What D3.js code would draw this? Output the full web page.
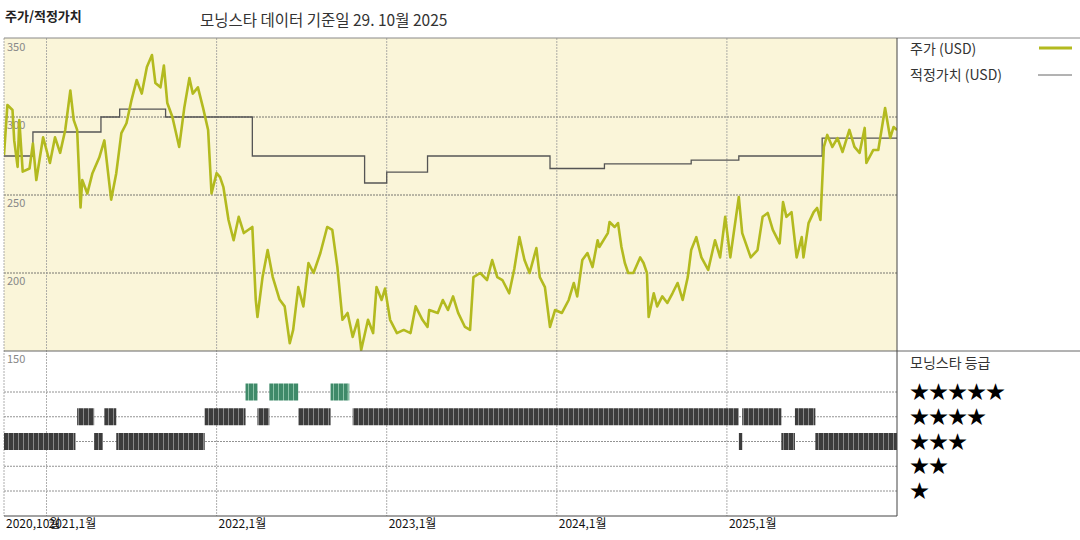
<!doctype html>
<html>
<head>
<meta charset="UTF-8">
<title>주가/적정가치</title>
<script src="https://d3js.org/d3.v7.min.js"></script>
<style>
  body{margin:0;background:#fff;}
  text{font-family:"Noto Sans CJK KR","DejaVu Sans",sans-serif;}
</style>
</head>
<body>
<svg width="1080" height="540" id="svg1"></svg>
<script>
// price (USD): decimal year, value
var priceT = [2020.75,2020.77,2020.80,2020.81,2020.83,2020.84,2020.86,2020.90,2020.92,2020.94,2020.98,2021.02,2021.05,2021.08,2021.11,2021.14,2021.16,2021.18,2021.20,2021.21,2021.24,2021.27,2021.31,2021.34,2021.38,2021.41,2021.44,2021.47,2021.50,2021.53,2021.56,2021.59,2021.62,2021.64,2021.67,2021.69,2021.71,2021.74,2021.78,2021.81,2021.84,2021.86,2021.89,2021.92,2021.95,2021.97,2022.00,2022.02,2022.04,2022.07,2022.10,2022.13,2022.16,2022.21,2022.23,2022.24,2022.27,2022.30,2022.33,2022.37,2022.40,2022.43,2022.45,2022.48,2022.51,2022.54,2022.57,2022.61,2022.65,2022.68,2022.71,2022.74,2022.77,2022.80,2022.83,2022.85,2022.89,2022.92,2022.94,2022.97,2022.99,2023.02,2023.06,2023.10,2023.14,2023.17,2023.21,2023.24,2023.25,2023.30,2023.33,2023.36,2023.39,2023.42,2023.46,2023.49,2023.51,2023.55,2023.59,2023.62,2023.65,2023.68,2023.72,2023.75,2023.78,2023.81,2023.84,2023.88,2023.90,2023.93,2023.96,2023.99,2024.03,2024.07,2024.10,2024.12,2024.15,2024.18,2024.21,2024.24,2024.25,2024.30,2024.31,2024.34,2024.36,2024.38,2024.40,2024.42,2024.45,2024.49,2024.51,2024.53,2024.54,2024.57,2024.59,2024.62,2024.65,2024.68,2024.71,2024.74,2024.77,2024.79,2024.82,2024.85,2024.89,2024.93,2024.96,2024.99,2025.02,2025.04,2025.07,2025.09,2025.14,2025.18,2025.21,2025.24,2025.27,2025.31,2025.33,2025.35,2025.38,2025.41,2025.44,2025.45,2025.48,2025.51,2025.53,2025.55,2025.57,2025.59,2025.62,2025.65,2025.68,2025.72,2025.75,2025.78,2025.81,2025.82,2025.86,2025.89,2025.93,2025.96,2025.98,2026.00];
var priceV = [275.6,307.7,304.5,285,268,298,265,267,283,259.6,287,270.5,287,277,291.7,317,298,291.7,242,259.6,251,264,274,285,247,264,289.7,296,311,323.7,315,332,339.7,321.8,319,333,309,300,280.8,306,325,315,319,306,291.7,251,264,261.5,255,234,221,236,225.6,229.5,183,171.8,197.4,214.7,197.4,183,178.6,155,163.5,191,178.6,206.4,200,212.8,229.5,227.6,203.8,170,174.4,159,170,150.6,170,161.5,191,182.7,190,170,161.5,163.5,161.5,178.6,170,165.4,176.3,174.4,182.7,176.3,185,174.4,165.4,163.5,197.4,200,195.5,208.3,197.4,195.5,187,202.6,223,208.3,200,216,197.4,191,165.4,176.3,174.4,182.7,193.6,185,208.3,212.8,203.8,221,216.7,225.6,232.7,229.5,232,216.7,206.4,200,200,210,206.4,200,171.8,187,178.6,185,180.8,187,193.6,182.7,197.4,214.7,223,210,202,221,210,236,210,225.6,248.7,225.6,210,214.7,236,238.5,227.6,219,245.5,236,239,210,223,210,232,239,241.7,234,280.8,288.5,280.8,286.5,277.6,291.7,280.8,277,293,270.5,278.8,278.8,305.8,286.5,293.6,291.7];

// fair value (USD) steps: start year, value
var fairT = [2020.75,2020.92,2021.32,2021.43,2021.70,2022.21,2022.87,2023.00,2023.24,2023.96,2024.28,2024.79,2025.07,2025.56];
var fairV = [275,290.4,300,305,300,275,257.7,264.7,275,267,270,272.4,275,286.5];
var fairEnd = 2026.0;

// morningstar rating segments: [start, end, stars]
var ratingStart = [2020.75,2021.18,2021.28,2021.34,2021.41,2021.93,2022.17,2022.24,2022.31,2022.48,2022.67,2022.77,2022.80,2025.07,2025.09,2025.32,2025.40,2025.52];
var ratingEnd   = [2021.17,2021.28,2021.33,2021.41,2021.93,2022.17,2022.24,2022.31,2022.48,2022.67,2022.77,2022.78,2025.07,2025.09,2025.32,2025.40,2025.52,2026.00];
var ratingStars = [3,4,3,4,3,4,5,4,5,4,5,5,4,3,4,3,4,3];

var tickYears = [2020.75,2021,2022,2023,2024,2025];
var tickLabels = ["2020,10월","2021,1월","2022,1월","2023,1월","2024,1월","2025,1월"];
var priceTicks = [150,200,250,300,350];
var starRows = [5,4,3,2,1];

var svg = d3.select("#svg1");
var L = 4, R = 897, T = 38, M = 351, B = 516, BAR = 17;

var x = d3.scaleLinear().domain([2020.75, 2026.0]).range([L, R]);
var y = d3.scaleLinear().domain([150, 350]).range([M, T + 1]);
var yr = d3.scalePoint().domain(starRows).range([392, 491]);

// titles
svg.append("text").attr("x", 5).attr("y", 21).attr("font-size", 13).attr("font-weight", "bold").attr("fill", "#222").text("주가/적정가치");
svg.append("text").attr("x", 200).attr("y", 26).attr("font-size", 15.5).attr("fill", "#333").text("모닝스타 데이터 기준일 29. 10월 2025");

// panels
svg.append("rect").attr("x", L).attr("y", T).attr("width", R - L).attr("height", M - T).attr("fill", "#faf5d9");
svg.append("clipPath").attr("id", "clip").append("rect").attr("x", L).attr("y", T).attr("width", R - L).attr("height", M - T);

// grid
svg.selectAll(".hg").data([200, 250, 300]).enter().append("line")
  .attr("x1", L).attr("x2", R).attr("y1", function(d){ return y(d); }).attr("y2", function(d){ return y(d); })
  .attr("stroke", "#555").attr("stroke-dasharray", "2,1").attr("stroke-width", 0.8);
svg.selectAll(".rg").data(starRows).enter().append("line")
  .attr("x1", L).attr("x2", R)
  .attr("y1", function(d){ return yr(d); }).attr("y2", function(d){ return yr(d); })
  .attr("stroke", "#777").attr("stroke-dasharray", "2,1").attr("stroke-width", 0.8);
svg.selectAll(".vg").data(tickYears).enter().append("line")
  .attr("x1", function(d){ return x(d); }).attr("x2", function(d){ return x(d); })
  .attr("y1", T).attr("y2", B).attr("stroke", "#999").attr("stroke-dasharray", "2,1").attr("stroke-width", 0.8);

// y labels
svg.selectAll(".yl").data(priceTicks).enter().append("text")
  .attr("x", 7).attr("y", function(d){ return y(d) + 12; })
  .attr("font-size", 11).attr("fill", "#888").text(function(d){ return d; });

// fair value step line
var fairPts = fairT.map(function(t, i){ return [t, fairV[i]]; });
fairPts.push([fairEnd, fairV[fairV.length - 1]]);
svg.append("path").datum(fairPts)
  .attr("d", d3.line().curve(d3.curveStepAfter).x(function(d){ return x(d[0]); }).y(function(d){ return y(d[1]); }))
  .attr("fill", "none").attr("stroke", "#555").attr("stroke-width", 1.3);

// price line
var pricePts = priceT.map(function(t, i){ return [t, priceV[i]]; });
svg.append("path").datum(pricePts).attr("clip-path", "url(#clip)")
  .attr("d", d3.line().x(function(d){ return x(d[0]); }).y(function(d){ return y(d[1]); }))
  .attr("fill", "none").attr("stroke", "#b3ba1f").attr("stroke-width", 2.6).attr("stroke-linejoin", "round");

// rating bars (striped)
var defs = svg.append("defs");
[["dk", "#3c3c3c", "#888"], ["gr", "#3f8a69", "#8cc3a8"]].forEach(function(p){
  var pat = defs.append("pattern").attr("id", p[0]).attr("patternUnits", "userSpaceOnUse").attr("width", 5).attr("height", 10);
  pat.append("rect").attr("width", 5).attr("height", 10).attr("fill", p[1]);
  pat.append("rect").attr("x", 3).attr("width", 1).attr("height", 10).attr("fill", p[2]);
});
svg.selectAll(".rb").data(ratingStars).enter().append("rect")
  .attr("x", function(d, i){ return x(ratingStart[i]); })
  .attr("width", function(d, i){ return Math.max(1.5, x(ratingEnd[i]) - x(ratingStart[i])); })
  .attr("y", function(d){ return yr(d) - BAR / 2; }).attr("height", BAR)
  .attr("fill", function(d){ return d === 5 ? "url(#gr)" : "url(#dk)"; });

// frame lines
svg.append("line").attr("x1", L).attr("x2", 1080).attr("y1", T).attr("y2", T).attr("stroke", "#888");
svg.append("line").attr("x1", L).attr("x2", 1080).attr("y1", M).attr("y2", M).attr("stroke", "#666");
svg.append("line").attr("x1", L).attr("x2", R).attr("y1", B).attr("y2", B).attr("stroke", "#444");
svg.append("line").attr("x1", R).attr("x2", R).attr("y1", T).attr("y2", B).attr("stroke", "#444");

// x labels
svg.selectAll(".xl").data(tickLabels).enter().append("text")
  .attr("x", function(d, i){ return x(tickYears[i]) + 2; }).attr("y", 528)
  .attr("font-size", 12).attr("fill", "#111").text(function(d){ return d; });

// legend
svg.append("text").attr("x", 910).attr("y", 54).attr("font-size", 14).attr("fill", "#333").text("주가 (USD)");
svg.append("line").attr("x1", 1039).attr("x2", 1072).attr("y1", 48).attr("y2", 48).attr("stroke", "#b3ba1f").attr("stroke-width", 3);
svg.append("text").attr("x", 910).attr("y", 80).attr("font-size", 14).attr("fill", "#333").text("적정가치 (USD)");
svg.append("line").attr("x1", 1038).attr("x2", 1072).attr("y1", 75).attr("y2", 75).attr("stroke", "#666").attr("stroke-width", 1);
svg.append("text").attr("x", 910).attr("y", 368).attr("font-size", 14).attr("fill", "#333").text("모닝스타 등급");
svg.selectAll(".st").data(starRows).enter().append("text")
  .attr("x", 910).attr("y", function(d){ return yr(d) + 7; })
  .attr("font-size", 19).attr("fill", "#000").attr("font-family", "DejaVu Sans")
  .text(function(d){ return "★".repeat(d); });
</script>
</body>
</html>
